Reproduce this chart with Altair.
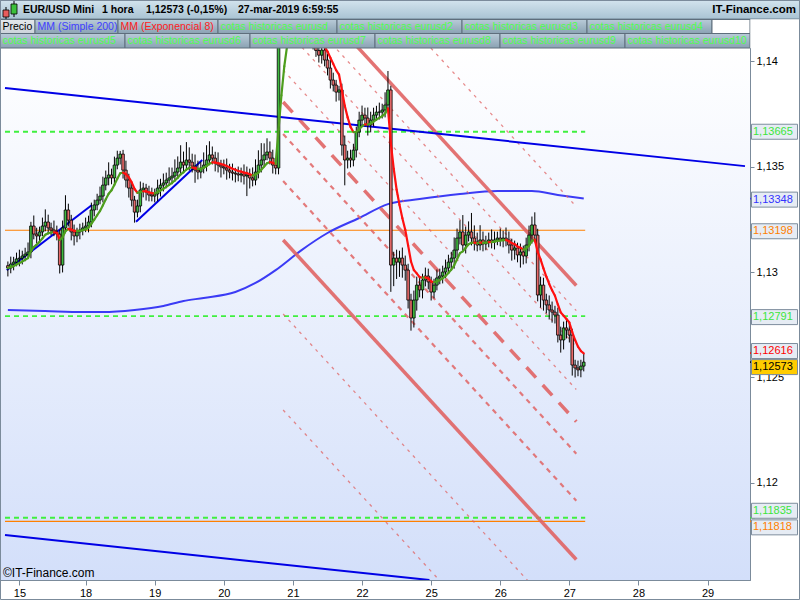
import altair as alt
import pandas as pd

# ---------------- data ----------------
# hourly EUR/USD bars, bar index 1..201 (each bar opens at the previous close)
first_open = 1.13030
closes = [
    1.13019, 1.13038, 1.13047, 1.13062, 1.13066, 1.13076, 1.13085, 1.13095, 1.13218, 1.13180,
    1.13171, 1.13190, 1.13218, 1.13237, 1.13209, 1.13199, 1.13190, 1.13180, 1.13033, 1.13209,
    1.13294, 1.13246, 1.13190, 1.13171, 1.13190, 1.13199, 1.13209, 1.13218, 1.13237, 1.13294,
    1.13318, 1.13341, 1.13360, 1.13412, 1.13446, 1.13460, 1.13446, 1.13507, 1.13540, 1.13559,
    1.13483, 1.13436, 1.13398, 1.13341, 1.13284, 1.13313, 1.13389, 1.13398, 1.13379, 1.13365,
    1.13360, 1.13370, 1.13398, 1.13412, 1.13422, 1.13436, 1.13446, 1.13455, 1.13474, 1.13493,
    1.13521, 1.13507, 1.13531, 1.13521, 1.13502, 1.13483, 1.13474, 1.13493, 1.13507, 1.13531,
    1.13555, 1.13540, 1.13517, 1.13507, 1.13498, 1.13493, 1.13483, 1.13474, 1.13469, 1.13465,
    1.13460, 1.13465, 1.13455, 1.13460, 1.13446, 1.13436, 1.13474, 1.13507, 1.13531, 1.13555,
    1.13569, 1.13540, 1.13507, 1.13493, 1.14250, 1.14400, 1.14460, 1.14420, 1.14360, 1.14300,
    1.14240, 1.14200, 1.14160, 1.14120, 1.14140, 1.14100, 1.14080, 1.14050, 1.14028, 1.14052,
    1.14005, 1.13967, 1.13910, 1.13886, 1.13853, 1.13863, 1.13602, 1.13531, 1.13540, 1.13531,
    1.13578, 1.13664, 1.13720, 1.13744, 1.13730, 1.13697, 1.13720, 1.13744, 1.13758, 1.13758,
    1.13768, 1.13792, 1.13863, 1.13033, 1.13066, 1.13047, 1.13066, 1.13033, 1.13009, 1.12867,
    1.12782, 1.12867, 1.12938, 1.12915, 1.12962, 1.12981, 1.12953, 1.12905, 1.12938, 1.12972,
    1.12981, 1.13000, 1.13019, 1.13047, 1.13066, 1.13104, 1.13161, 1.13190, 1.13128, 1.13175,
    1.13190, 1.13161, 1.13142, 1.13128, 1.13152, 1.13133, 1.13142, 1.13152, 1.13142, 1.13152,
    1.13161, 1.13152, 1.13161, 1.13152, 1.13128, 1.13104, 1.13114, 1.13081, 1.13095, 1.13076,
    1.13128, 1.13175, 1.13223, 1.13175, 1.12891, 1.12938, 1.12867, 1.12844, 1.12820, 1.12810,
    1.12796, 1.12701, 1.12678, 1.12735, 1.12725, 1.12701, 1.12559, 1.12545, 1.12536, 1.12554,
    1.12573,
]
# upper / lower shadows beyond the body, in points (0.00001)
wick_up = [
    20, 35, 25, 30, 40, 25, 30, 45, 20, 50,
    30, 25, 40, 60, 35, 25, 45, 30, 20, 35,
    70, 30, 25, 35, 20, 30, 25, 40, 30, 35,
    25, 30, 45, 40, 35, 60, 30, 40, 35, 15,
    20, 45, 30, 25, 20, 30, 40, 25, 20, 30,
    35, 25, 40, 30, 45, 35, 50, 40, 60, 55,
    80, 50, 85, 60, 40, 55, 45, 30, 60, 70,
    65, 40, 30, 50, 25, 35, 45, 30, 40, 25,
    35, 30, 45, 40, 30, 50, 60, 70, 80, 55,
    65, 50, 40, 30, 60, 30, 40, 30, 35, 30,
    25, 30, 35, 30, 25, 30, 40, 35, 30, 25,
    40, 30, 50, 35, 25, 20, 30, 45, 35, 40,
    30, 25, 40, 45, 35, 50, 40, 35, 30, 45,
    30, 60, 90, 20, 30, 40, 35, 50, 45, 30,
    30, 45, 40, 35, 30, 40, 35, 25, 30, 40,
    35, 30, 40, 35, 30, 60, 45, 55, 80, 40,
    50, 90, 60, 45, 70, 40, 30, 35, 50, 40,
    30, 45, 35, 50, 40, 30, 35, 25, 40, 30,
    35, 45, 40, 60, 30, 40, 35, 30, 45, 40,
    30, 35, 40, 30, 45, 35, 30, 25, 35, 30,
    40,
]
wick_dn = [
    40, 25, 30, 20, 35, 30, 25, 20, 30, 25,
    35, 30, 20, 25, 30, 25, 20, 30, 40, 35,
    25, 30, 40, 45, 30, 35, 25, 20, 30, 25,
    30, 25, 20, 30, 25, 35, 30, 25, 20, 30,
    40, 35, 45, 30, 50, 25, 30, 35, 40, 30,
    25, 30, 35, 40, 30, 25, 20, 30, 25, 30,
    35, 30, 25, 40, 30, 60, 35, 30, 25, 30,
    25, 30, 40, 35, 50, 30, 45, 30, 35, 40,
    30, 35, 40, 95, 50, 30, 25, 30, 35, 30,
    25, 30, 40, 30, 30, 30, 35, 30, 25, 30,
    35, 30, 25, 30, 35, 30, 25, 30, 35, 40,
    30, 35, 40, 30, 45, 40, 50, 120, 40, 35,
    30, 35, 25, 30, 40, 50, 35, 30, 25, 35,
    30, 35, 25, 127, 100, 80, 70, 60, 50, 40,
    60, 45, 50, 35, 40, 30, 35, 40, 30, 25,
    30, 35, 30, 25, 40, 50, 35, 30, 25, 40,
    30, 35, 40, 30, 25, 35, 30, 25, 30, 35,
    25, 30, 35, 30, 40, 50, 45, 35, 60, 40,
    35, 30, 40, 25, 30, 60, 50, 40, 45, 50,
    40, 35, 60, 45, 40, 35, 50, 45, 30, 35,
    25,
]

# MM (Simple 200) sampled along the chart
sma_bars = [1, 14, 27, 34, 45, 55, 62, 69, 80, 87, 94, 103, 112, 123, 133, 144, 158, 171, 183, 192, 201]
sma_vals = [1.12820, 1.12815, 1.12810, 1.12810, 1.12820, 1.12839, 1.12863, 1.12877, 1.12905, 1.12948,
            1.13009, 1.13104, 1.13185, 1.13256, 1.13322, 1.13346, 1.13370, 1.13384, 1.13384, 1.13365,
            1.13348]

# horizontal support / resistance levels
green_levels = [1.13665, 1.12791, 1.11835]
orange_levels = [1.13198, 1.11818]
level_end_bar = 201.5

# blue trendlines (start bar, start price, end bar, end price)
blue_x0 = [0, 0, 0.6, 45.5]
blue_p0 = [1.13872, 1.11753, 1.13009, 1.13238]
blue_x1 = [257, 147.4, 30.2, 68.5]
blue_p1 = [1.13502, 1.11540, 1.13318, 1.13531]

# descending channel lines
chan_x0 = [147.9, 116.5, 109.7, 99.4, 96.6, 96.6, 96.6, 96.6, 96.6, 96.6, 96.6]
chan_p0 = [1.14062, 1.14155, 1.14138, 1.14121, 1.13957, 1.13806, 1.13654, 1.13431, 1.13152, 1.12801, 1.12346]
chan_x1 = [198.4] * 11
chan_p1 = [1.13310, 1.12936, 1.12817, 1.12646, 1.12443, 1.12291, 1.12139, 1.11916, 1.11637, 1.11286, 1.10831]
chan_kind = ["dot", "solid", "dot", "dot", "dot", "longdash", "dash", "dash", "solid", "dot", "dot"]

# axes
day_ticks = [5, 28, 52, 76, 100, 124, 148, 172, 196, 220, 244]
day_labels = ["15", "18", "19", "20", "21", "22", "25", "26", "27", "28", "29"]
price_ticks = [1.12, 1.125, 1.13, 1.135, 1.14]

# price tags on the right scale
tag_values = [1.13665, 1.13348, 1.13198, 1.12791, 1.12616, 1.12573, 1.11835, 1.11818]
tag_texts = ["1,13665", "1,13348", "1,13198", "1,12791", "1,12616", "1,12573", "1,11835", "1,11818"]

# header texts
title_parts = ["EUR/USD Mini", "1 hora", "1,12573 (-0,15%)", "27-mar-2019 6:59:55"]
site_name = "IT-Finance.com"
tab_row1 = ["Precio", "MM (Simple 200)", "MM (Exponencial 8)", "cotas historicas eurusd",
            "cotas historicas eurusd2", "cotas historicas eurusd3", "cotas historicas eurusd4"]
tab_row2 = ["cotas historicas eurusd5", "cotas historicas eurusd6", "cotas historicas eurusd7",
            "cotas historicas eurusd8", "cotas historicas eurusd9", "cotas historicas eurusd10"]
copyright_text = "\u00a9IT-Finance.com"

# ---------------- layout / style ----------------
W, H, TOP = 750, 532, 48
FONT = "Liberation Sans"
FRAME = "#7b8b9b"
GREEN_BODY, RED_BODY = "#3fba3f", "#e86a6a"
CHAN = "#e06464"
TAG_COLORS = ["#3ce63c", "#3333ff", "#ff7f00", "#3ce63c", "#ff0000", "#000000", "#3ce63c", "#ff7f00"]
TAG_FILLS = ["#e6ecf4"] * 5 + ["#ffcc00"] + ["#e6ecf4"] * 2
TAG_NUDGE = [0, 1, 1, 1, -2, 5, -7, 6]
TAB_FILL = ("#b9cbd8", "#8aa2b3")
TAB_GREEN = "#4dff4d"
TAB1_X = [0, 35, 118, 218, 337, 462, 587, 712]
TAB1_COLORS = ["#000000", "#4040ff", "#ff2020"] + [TAB_GREEN] * 4
TAB2_X = [0, 125, 250, 375, 500, 625, 750]
TITLE_X = [23, 102, 146, 238]

# ---------------- tables ----------------
opens = [first_open] + closes[:-1]
bars = list(range(1, len(closes) + 1))
candles = pd.DataFrame({"bar": bars, "open": opens, "close": closes})
candles["price"] = [max(o, c) + u * 1e-5 for o, c, u in zip(opens, closes, wick_up)]
candles["price2"] = [min(o, c) - d * 1e-5 for o, c, d in zip(opens, closes, wick_dn)]
candles["up"] = candles["close"] >= candles["open"]

# EMA 8 of the closes, coloured by direction
alpha = 2 / (8 + 1)
ema = [closes[0]]
for c in closes[1:]:
    ema.append(ema[-1] + alpha * (c - ema[-1]))
ema_df = pd.DataFrame({
    "bar": bars[:-1], "bar2": bars[1:],
    "price": ema[:-1], "price2": ema[1:],
})
ema_df["rising"] = ema_df["price2"] >= ema_df["price"]

sma_df = pd.DataFrame({"bar": sma_bars, "price": sma_vals})
green_df = pd.DataFrame({"bar": 0, "bar2": level_end_bar, "price": green_levels})
orange_df = pd.DataFrame({"bar": 0, "bar2": level_end_bar, "price": orange_levels})
blue_df = pd.DataFrame({"bar": blue_x0, "price": blue_p0, "bar2": blue_x1, "price2": blue_p1})
chan_df = pd.DataFrame({"bar": chan_x0, "price": chan_p0, "bar2": chan_x1, "price2": chan_p1,
                        "kind": chan_kind})
one = pd.DataFrame({"k": [0]})

# ---------------- encodings ----------------
label_expr = ("[" + ",".join(f"'{s}'" for s in day_labels) + "][indexof(["
              + ",".join(str(t) for t in day_ticks) + "], datum.value)]")
X = alt.X("bar:Q", scale=alt.Scale(domain=[0, 257], nice=False, zero=False),
          axis=alt.Axis(values=day_ticks, labelExpr=label_expr, title=None, grid=False,
                        tickSize=5, tickColor=FRAME, domainColor=FRAME, labelFont=FONT,
                        labelFontSize=11, labelColor="black", labelPadding=2,
                        labelFlush=False, labelOverlap=False))
Y = alt.Y("price:Q", scale=alt.Scale(domain=[1.1154, 1.14062], nice=False, zero=False),
          axis=alt.Axis(orient="right", values=price_ticks,
                        labelExpr="replace(toString(datum.value), '.', ',')", title=None,
                        grid=False, tickSize=4, tickColor=FRAME, domainColor=FRAME,
                        labelFont=FONT, labelFontSize=11, labelColor="black", labelPadding=2,
                        labelFlush=False, labelOverlap=False))
X2 = alt.X2("bar2:Q")
Y2 = alt.Y2("price2:Q")


def vgrad(c0, c1):
    return alt.LinearGradient(gradient="linear", x1=0, x2=0, y1=0, y2=1,
                              stops=[alt.GradientStop(color=c0, offset=0),
                                     alt.GradientStop(color=c1, offset=1)])


def px_rect(x0, x1, y0, y1, **kw):
    return alt.Chart(one).mark_rect(**kw).encode(
        x=alt.value(x0), x2=alt.value(x1), y=alt.value(y0 - TOP), y2=alt.value(y1 - TOP))


def px_text(x, y, s, **kw):
    opts = dict(font=FONT, fontSize=11, baseline="middle", align="left", color="black")
    opts.update(kw)
    return alt.Chart(one).mark_text(text=s, **opts).encode(x=alt.value(x), y=alt.value(y - TOP))


layers = []

# plot background
layers.append(px_rect(0, W, TOP, TOP + H, fill=vgrad("#ffffff", "#d3dffa")))

# horizontal levels
layers.append(alt.Chart(orange_df).mark_rule(color="#ff8000", strokeWidth=1.2)
              .encode(x=X, x2=X2, y=Y))
layers.append(alt.Chart(green_df).mark_rule(color="#3ff03f", strokeWidth=1.8, strokeDash=[5, 4])
              .encode(x=X, x2=X2, y=Y))

# simple moving average 200
layers.append(alt.Chart(sma_df).mark_line(color="#3b3bf5", strokeWidth=2, interpolate="monotone")
              .encode(x=X, y=Y))

# channel lines by style
chan_styles = {
    "solid": dict(strokeWidth=3.5, opacity=0.9),
    "longdash": dict(strokeWidth=3.5, strokeDash=[14, 10], opacity=0.9),
    "dash": dict(strokeWidth=2.2, strokeDash=[5, 5], opacity=0.85),
    "dot": dict(strokeWidth=1.3, strokeDash=[3, 5], opacity=0.75),
}
for kind, st in chan_styles.items():
    layers.append(alt.Chart(chan_df).transform_filter(alt.datum.kind == kind)
                  .mark_rule(color=CHAN, clip=True, **st)
                  .encode(x=X, x2=X2, y=Y, y2=Y2))

# blue trendlines
layers.append(alt.Chart(blue_df).mark_rule(color="#0000e6", strokeWidth=2, clip=True)
              .encode(x=X, x2=X2, y=Y, y2=Y2))

# candles: shadows then bodies
layers.append(alt.Chart(candles).mark_rule(color="black", strokeWidth=1, clip=True)
              .encode(x=X, y=Y, y2=Y2))
layers.append(alt.Chart(candles).mark_bar(size=2.6, stroke="black", strokeWidth=0.8, clip=True)
              .encode(x=X, y=alt.Y("open:Q"), y2=alt.Y2("close:Q"),
                      color=alt.condition(alt.datum.up, alt.value(GREEN_BODY), alt.value(RED_BODY))))

# EMA 8 segments
layers.append(alt.Chart(ema_df).mark_rule(strokeWidth=2.2, strokeCap="round", clip=True)
              .encode(x=X, x2=X2, y=Y, y2=Y2,
                      color=alt.condition(alt.datum.rising, alt.value("#4e9e1e"), alt.value("#ff1010"))))

# copyright
layers.append(px_text(3, 573, copyright_text, fontSize=12))

# price tags
box_shape = "M-1,-0.326L1,-0.326L1,0.326L-1,0.326Z"
for v, t, col, fill, nd in zip(tag_values, tag_texts, TAG_COLORS, TAG_FILLS, TAG_NUDGE):
    d = pd.DataFrame({"price": [v], "label": [t]})
    layers.append(alt.Chart(d).mark_rule(color=col, strokeWidth=1.5)
                  .encode(x=alt.value(W), x2=alt.value(W + 5), y=Y))
    layers.append(alt.Chart(d).mark_point(shape=box_shape, size=2116, filled=True, fill=fill,
                                          stroke="#7d8d9d", strokeWidth=1, opacity=1, yOffset=nd)
                  .encode(x=alt.value(W + 24.5), y=Y))
    layers.append(alt.Chart(d).mark_text(font=FONT, fontSize=11, align="left", baseline="middle",
                                         color=col, yOffset=nd)
                  .encode(x=alt.value(W + 3), y=Y, text="label:N"))

# header: title bar
layers.append(px_rect(0, 800, 0, 19, fill=vgrad("#d3e4ee", "#a9c3d3"), stroke="#6f8292", strokeWidth=1))
# candlestick icon
layers.append(px_rect(5.5, 6.5, 7, 19, fill="black"))
layers.append(px_rect(3, 9, 10, 17, fill="#e85c5c", stroke="black", strokeWidth=0.8))
layers.append(px_rect(13.5, 14.5, 1, 17, fill="black"))
layers.append(px_rect(11, 17, 4, 14, fill="#3cc03c", stroke="black", strokeWidth=0.8))
for x, s in zip(TITLE_X, title_parts):
    layers.append(px_text(x, 9.5, s, fontWeight="bold", fontSize=10.5))
layers.append(px_text(796, 9.5, site_name, fontWeight="bold", fontSize=11.5, align="right"))

# legend tabs, row 1
for i, (s, col) in enumerate(zip(tab_row1, TAB1_COLORS)):
    fill = vgrad("#e4e8ec", "#ccd3da") if i == 0 else vgrad(*TAB_FILL)
    layers.append(px_rect(TAB1_X[i], TAB1_X[i + 1], 19.5, 33.5, fill=fill,
                          stroke="#5e6e7c", strokeWidth=1))
    layers.append(px_text(TAB1_X[i] + 2.5, 27, s, color=col, fontSize=10.5))
layers.append(px_rect(TAB1_X[-1], W, 19.5, 33.5, fill="white", stroke="#5e6e7c", strokeWidth=1))
# legend tabs, row 2
for i, s in enumerate(tab_row2):
    layers.append(px_rect(TAB2_X[i], TAB2_X[i + 1], 33.5, 48, fill=vgrad(*TAB_FILL),
                          stroke="#5e6e7c", strokeWidth=1))
    layers.append(px_text(TAB2_X[i] + 2.5, 41, s, color=TAB_GREEN, fontSize=10.5))
layers.append(px_rect(W + 0.5, 800, 19.5, 48, fill="white"))

# outer frame
layers.append(px_rect(0.5, 799.5, 0.5, 599.5, fill=None, stroke=FRAME, strokeWidth=1,
                      filled=False))

chart = (
    alt.layer(*layers)
    .properties(width=W, height=H,
                padding={"left": 0, "top": TOP, "right": 50, "bottom": 20},
                autosize=alt.AutoSizeParams(type="none"))
    .configure(background="white", font=FONT)
    .configure_view(stroke=FRAME, strokeWidth=1)
)

chart.save("out.html", embed_options={"renderer": "svg", "actions": False})
